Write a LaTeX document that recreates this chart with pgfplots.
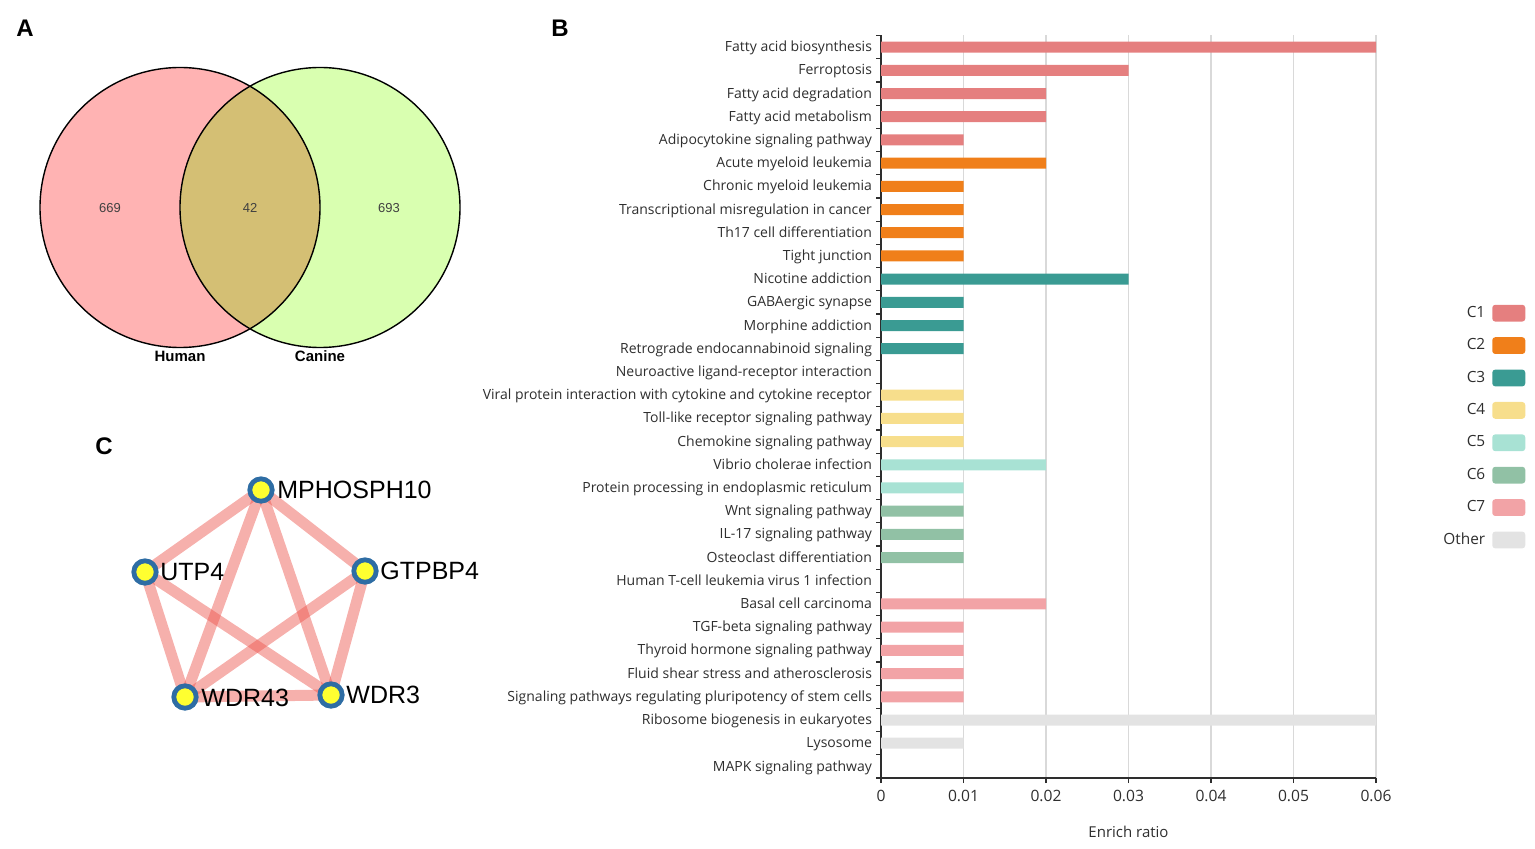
\documentclass[border=0pt]{standalone}
\usepackage{pgfplots}
\pgfplotsset{compat=1.18}
\usepackage{fontspec}
\setmainfont{Open Sans}
\newfontfamily\arial{Liberation Sans}

\definecolor{cA}{HTML}{E57F7F}
\definecolor{cB}{HTML}{F07F1A}
\definecolor{cC}{HTML}{3A9B93}
\definecolor{cD}{HTML}{F7DE8C}
\definecolor{cE}{HTML}{A8E2D4}
\definecolor{cF}{HTML}{91C1A5}
\definecolor{cG}{HTML}{F2A3A6}
\definecolor{cO}{HTML}{E3E3E3}
\definecolor{txt}{HTML}{2E2E2E}
\definecolor{vennL}{HTML}{FFB3B3}
\definecolor{vennR}{HTML}{D9FFB0}
\definecolor{vennM}{HTML}{D4BF74}
\definecolor{edge}{HTML}{EC5048}
\definecolor{nodeY}{HTML}{FFFF30}
\definecolor{nodeB}{HTML}{2E6DA4}

\begin{document}
\begin{tikzpicture}
% panels A and C: one hidden axis in pixel units of the reference
\begin{axis}[at={(0pt,0pt)}, anchor=south west, scale only axis,
    x=0.5pt, y=0.5pt, xmin=0, xmax=1535, ymin=0, ymax=848,
    hide axis, clip=false]
  % Venn
  \fill[vennL] (axis cs:180,640.5) circle[radius=70pt];
  \fill[vennR] (axis cs:320,640.5) circle[radius=70pt];
  \begin{scope}
    \clip (axis cs:180,640.5) circle[radius=70pt];
    \fill[vennM] (axis cs:320,640.5) circle[radius=70pt];
  \end{scope}
  \draw[line width=0.7pt] (axis cs:180,640.5) circle[radius=70pt];
  \draw[line width=0.7pt] (axis cs:320,640.5) circle[radius=70pt];
  \node[font=\arial\fontsize{6.5}{7}\selectfont, text=black!75] at (axis cs:110,640) {669};
  \node[font=\arial\fontsize{6.5}{7}\selectfont, text=black!75] at (axis cs:250,640) {42};
  \node[font=\arial\fontsize{6.5}{7}\selectfont, text=black!75] at (axis cs:389,640) {693};
  \node[font=\arial\bfseries\fontsize{7.5}{8}\selectfont] at (axis cs:180,492) {Human};
  \node[font=\arial\bfseries\fontsize{7.5}{8}\selectfont] at (axis cs:320,492) {Canine};

  % panel letters
  \node[font=\arial\bfseries\fontsize{12}{13}\selectfont] at (axis cs:25,820) {A};
  \node[font=\arial\bfseries\fontsize{12}{13}\selectfont] at (axis cs:560,820) {B};
  \node[font=\arial\bfseries\fontsize{12}{13}\selectfont] at (axis cs:104,402) {C};

  % network edges
  \addplot[no marks, line width=5.5pt, edge, opacity=0.45] coordinates {(261,358) (145,276)};
  \addplot[no marks, line width=5.5pt, edge, opacity=0.45] coordinates {(261,358) (365,277)};
  \addplot[no marks, line width=5.5pt, edge, opacity=0.45] coordinates {(261,358) (185,151)};
  \addplot[no marks, line width=5.5pt, edge, opacity=0.45] coordinates {(261,358) (331,153)};
  \addplot[no marks, line width=5.5pt, edge, opacity=0.45] coordinates {(145,276) (185,151)};
  \addplot[no marks, line width=5.5pt, edge, opacity=0.45] coordinates {(145,276) (331,153)};
  \addplot[no marks, line width=5.5pt, edge, opacity=0.45] coordinates {(365,277) (185,151)};
  \addplot[no marks, line width=5.5pt, edge, opacity=0.45] coordinates {(365,277) (331,153)};
  \addplot[no marks, line width=5.5pt, edge, opacity=0.45] coordinates {(185,151) (331,153)};
  % network nodes
  \addplot[only marks, mark=*, mark size=5.6pt,
    mark options={fill=nodeY, draw=nodeB, line width=2.4pt}]
    coordinates {(261,358) (145,276) (365,277) (185,151) (331,153)};
  \node[anchor=west, inner sep=0pt, font=\arial\fontsize{12.5}{14}\selectfont] at (axis cs:277,358) {MPHOSPH10};
  \node[anchor=west, inner sep=0pt, font=\arial\fontsize{12.5}{14}\selectfont] at (axis cs:160,276) {UTP4};
  \node[anchor=west, inner sep=0pt, font=\arial\fontsize{12.5}{14}\selectfont] at (axis cs:380,277) {GTPBP4};
  \node[anchor=west, inner sep=0pt, font=\arial\fontsize{12.5}{14}\selectfont] at (axis cs:201,150) {WDR43};
  \node[anchor=west, inner sep=0pt, font=\arial\fontsize{12.5}{14}\selectfont] at (axis cs:346,153) {WDR3};
\end{axis}

% panel B: enrichment bars
\begin{axis}[at={(440.5pt,35pt)}, anchor=south west, scale only axis,
    width=247.5pt, height=371.25pt,
    xbar, bar width=5.5pt, bar shift=0pt,
    xmin=0, xmax=0.06, ymin=-0.5, ymax=31.5,
    axis x line*=bottom, axis y line*=left,
    axis line style={-, draw=txt, line width=0.6pt},
    xtick={0,0.01,0.02,0.03,0.04,0.05,0.06},
    xticklabels={0,0.01,0.02,0.03,0.04,0.05,0.06},
    scaled x ticks=false,
    xmajorgrids, major x grid style={black!15, line width=0.6pt},
    ytick={0,...,31},
    minor ytick={-0.5,0.5,...,31.5},
    yticklabels={MAPK signaling pathway, Lysosome, Ribosome biogenesis in eukaryotes,
      Signaling pathways regulating pluripotency of stem cells,
      Fluid shear stress and atherosclerosis, Thyroid hormone signaling pathway,
      TGF-beta signaling pathway, Basal cell carcinoma,
      Human T-cell leukemia virus 1 infection, Osteoclast differentiation,
      IL-17 signaling pathway, Wnt signaling pathway,
      Protein processing in endoplasmic reticulum, Vibrio cholerae infection,
      Chemokine signaling pathway, Toll-like receptor signaling pathway,
      Viral protein interaction with cytokine and cytokine receptor,
      Neuroactive ligand-receptor interaction,
      Retrograde endocannabinoid signaling, Morphine addiction, GABAergic synapse,
      Nicotine addiction, Tight junction, Th17 cell differentiation,
      Transcriptional misregulation in cancer, Chronic myeloid leukemia,
      Acute myeloid leukemia, Adipocytokine signaling pathway,
      Fatty acid metabolism, Fatty acid degradation, Ferroptosis,
      Fatty acid biosynthesis},
    tick align=outside,
    major tick length=2.5pt, minor tick length=2.5pt,
    major y tick style={draw=none},
    tick style={draw=txt, line width=0.6pt},
    yticklabel style={font=\fontsize{7}{8}\selectfont, text=txt, xshift=1.5pt,
      text height=5.6pt, text depth=1.0pt},
    xticklabel style={font=\fontsize{7.8}{9}\selectfont, text=txt},
    xlabel={Enrich ratio},
    xlabel style={font=\fontsize{7.5}{8}\selectfont, text=txt,
      at={(axis description cs:0.5,-0.073)}, anchor=center},
    legend plot pos=right,
    legend cell align=right,
    legend image code/.code={\draw[#1, draw=none, rounded corners=1.5pt]
      (0pt,-4.2pt) rectangle (16.5pt,4.2pt);},
    legend style={at={(1.3145,0.4733)}, anchor=east, draw=none, fill=none,
      font=\fontsize{7.7}{8}\selectfont, text=txt,
      nodes={inner sep=0pt}, row sep=7.8pt, /tikz/column sep=3.5pt},
  ]
  \addplot[fill=cA, draw=none] coordinates {(0.06,31) (0.03,30) (0.02,29) (0.02,28) (0.01,27)};
  \addlegendentry{C1}
  \addplot[fill=cB, draw=none] coordinates {(0.02,26) (0.01,25) (0.01,24) (0.01,23) (0.01,22)};
  \addlegendentry{C2}
  \addplot[fill=cC, draw=none] coordinates {(0.03,21) (0.01,20) (0.01,19) (0.01,18)};
  \addlegendentry{C3}
  \addplot[fill=cD, draw=none] coordinates {(0.01,16) (0.01,15) (0.01,14)};
  \addlegendentry{C4}
  \addplot[fill=cE, draw=none] coordinates {(0.02,13) (0.01,12)};
  \addlegendentry{C5}
  \addplot[fill=cF, draw=none] coordinates {(0.01,11) (0.01,10) (0.01,9)};
  \addlegendentry{C6}
  \addplot[fill=cG, draw=none] coordinates {(0.02,7) (0.01,6) (0.01,5) (0.01,4) (0.01,3)};
  \addlegendentry{C7}
  \addplot[fill=cO, draw=none] coordinates {(0.06,2) (0.01,1)};
  \addlegendentry{Other}
\end{axis}
\pgfresetboundingbox
\useasboundingbox (0pt,0pt) rectangle (767.5pt,424pt);
\end{tikzpicture}
\end{document}
